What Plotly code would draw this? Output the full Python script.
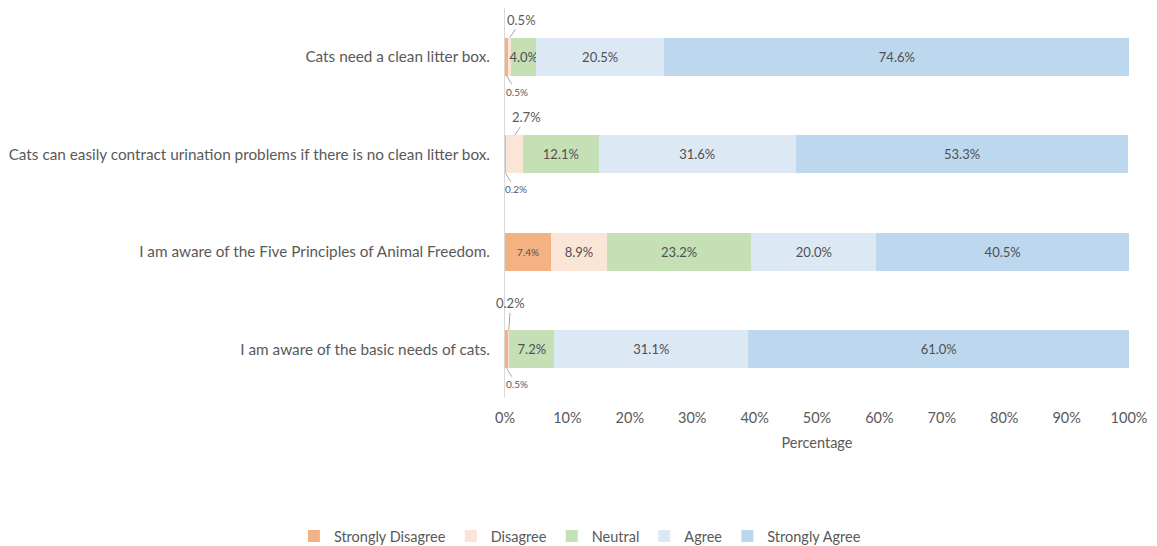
import plotly.graph_objects as go

statements = [
    "Cats need a clean litter box.",
    "Cats can easily contract urination problems if there is no clean litter box.",
    "I am aware of the Five Principles of Animal Freedom.",
    "I am aware of the basic needs of cats.",
]
series_names = ["Strongly Disagree", "Disagree", "Neutral", "Agree", "Strongly Agree"]
strongly_disagree = [0.5, 0.2, 7.4, 0.5]
disagree = [0.5, 2.7, 8.9, 0.2]
neutral = [4.0, 12.1, 23.2, 7.2]
agree = [20.5, 31.6, 20.0, 31.1]
strongly_agree = [74.6, 53.3, 40.5, 61.0]
x_ticks = [0, 10, 20, 30, 40, 50, 60, 70, 80, 90, 100]

colors = ["#F4B183", "#FBE5D6", "#C5E0B4", "#DDE8F5", "#BDD7EE"]
label_sizes = [10, 13, 13, 13, 13]
all_series = [strongly_disagree, disagree, neutral, agree, strongly_agree]

FONT = "Lato"
fig = go.Figure()
for name, vals, col, fs in zip(series_names, all_series, colors, label_sizes):
    texts = [f"{v:.1f}%" if v >= 3 else "" for v in vals]
    fig.add_trace(go.Bar(
        y=statements, x=vals, name=name, orientation="h",
        marker=dict(color=col, line=dict(width=0)),
        text=texts, textposition="inside", insidetextanchor="middle",
        textangle=0, constraintext="none",
        textfont=dict(size=fs, color="#505050", family=FONT),
        hoverinfo="skip",
    ))

# leader-line labels for the tiny segments (pixel offsets of the label from the bar edge)
annotations = []
for i, cat in enumerate(statements):
    sd = strongly_disagree[i]
    d = disagree[i]
    if sd < 3:
        annotations.append(dict(
            x=sd / 2, y=cat, xref="x", yref="y", yshift=-19,
            text=f"{sd:.1f}%", showarrow=True, arrowhead=0, arrowwidth=1,
            arrowcolor="#A6A6A6", ax=10, ay=16, standoff=0,
            font=dict(size=10, color="#595959", family=FONT)))
    if d < 3:
        small = d < 0.3
        annotations.append(dict(
            x=sd + d / 2, y=cat, xref="x", yref="y", yshift=19,
            text=f"{d:.1f}%", showarrow=True, arrowhead=0, arrowwidth=1,
            arrowcolor="#A6A6A6", ax=2 if small else 12, ay=-27 if small else -18, standoff=0,
            font=dict(size=13, color="#595959", family=FONT)))

# the page body adds an 8px margin, so the figure is 8px smaller than the window
fig.update_layout(
    barmode="stack", bargap=0.61,
    width=1149, height=538,
    margin=dict(l=497, r=28, t=0, b=148, autoexpand=False),
    paper_bgcolor="white", plot_bgcolor="white",
    font=dict(family=FONT, size=14, color="#595959"),
    showlegend=True,
    legend=dict(orientation="h", x=0.12, xanchor="center", y=-0.354, yanchor="middle",
                font=dict(size=14.5, color="#595959"), traceorder="normal"),
    annotations=annotations,
    xaxis=dict(range=[0, 100], tickvals=x_ticks, ticktext=[f"{v}%" for v in x_ticks],
               showgrid=False, zeroline=False, showline=False, ticks="", ticklabelstandoff=9,
               tickfont=dict(size=14.5, color="#595959"),
               title=dict(text="Percentage", standoff=13, font=dict(size=14.5, color="#595959"))),
    yaxis=dict(categoryorder="array", categoryarray=statements, range=[3.5, -0.5],
               autorange=False,
               showline=True, linecolor="#D9D9D9", linewidth=1, ticks="", ticklabelstandoff=11,
               tickfont=dict(size=15.3, color="#595959"), showgrid=False),
)
fig.write_html("out.html")
